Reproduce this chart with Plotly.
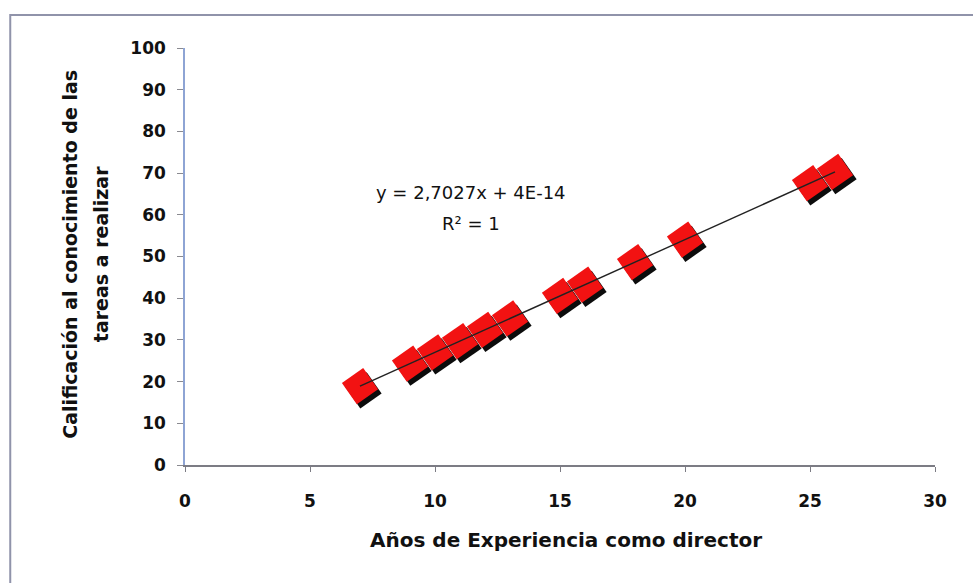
import plotly.graph_objects as go

# Years of experience as director vs. rating of task knowledge
years = [7, 9, 10, 11, 12, 13, 15, 16, 18, 20, 25, 26]
slope = 2.7027
rating = [round(slope * x, 2) for x in years]

x_ticks = [0, 5, 10, 15, 20, 25, 30]
y_ticks = [0, 10, 20, 30, 40, 50, 60, 70, 80, 90, 100]

bold_font = "DejaVu Sans, sans-serif"
text_color = "#111111"

fig = go.Figure()

# Drop shadow under each marker
fig.add_trace(go.Scatter(
    x=[x + 0.14 for x in years],
    y=[y - 1.0 for y in rating],
    mode="markers",
    marker=dict(symbol="square", size=26, angle=-35, color="#0c0c0c"),
    hoverinfo="skip", showlegend=False,
))

fig.add_trace(go.Scatter(
    x=years, y=rating, mode="markers",
    marker=dict(symbol="square", size=26, angle=-35, color="#f21212",
                line=dict(width=0)),
    showlegend=False,
))

# Linear trend line
fig.add_trace(go.Scatter(
    x=[min(years), max(years)],
    y=[slope * min(years), slope * max(years)],
    mode="lines", line=dict(color="#222222", width=1.4),
    showlegend=False, hoverinfo="skip",
))

# Trend equation and fit quality
fig.add_annotation(x=11.45, y=65.3, xref="x", yref="y",
                   text="y = 2,7027x + 4E-14", showarrow=False,
                   xanchor="center", yanchor="middle",
                   font=dict(family=bold_font, size=18, color=text_color))
fig.add_annotation(x=11.45, y=57.9, xref="x", yref="y",
                   text="R² = 1", showarrow=False,
                   xanchor="center", yanchor="middle",
                   font=dict(family=bold_font, size=18, color=text_color))

# Axis titles
fig.add_annotation(x=0.508, y=-0.18, xref="paper", yref="paper",
                   text="<b>Años de Experiencia como director</b>",
                   showarrow=False, xanchor="center", yanchor="middle",
                   font=dict(family=bold_font, size=20, color=text_color))
fig.add_annotation(x=-0.153, y=0.505, xref="paper", yref="paper",
                   text="<b>Calificación al conocimiento de las</b>",
                   showarrow=False, textangle=-90,
                   xanchor="center", yanchor="middle",
                   font=dict(family=bold_font, size=19, color=text_color))
fig.add_annotation(x=-0.111, y=0.505, xref="paper", yref="paper",
                   text="<b>tareas a realizar</b>",
                   showarrow=False, textangle=-90,
                   xanchor="center", yanchor="middle",
                   font=dict(family=bold_font, size=19, color=text_color))

# Outer chart frame
fig.add_shape(type="rect", xref="paper", yref="paper",
              x0=-0.233, x1=1.2, y0=-0.35, y1=1.079,
              line=dict(color="#9093aa", width=2), layer="below")

fig.update_layout(
    width=973, height=583,
    margin=dict(l=185, r=38, t=48, b=118),
    paper_bgcolor="white", plot_bgcolor="white",
    font=dict(family=bold_font, color=text_color),
    xaxis=dict(
        range=[0, 30], tickvals=x_ticks, ticktext=[str(v) for v in x_ticks],
        showgrid=False, zeroline=False,
        showline=True, linecolor="#7c7c84", linewidth=1.5,
        ticks="outside", ticklen=5, tickcolor="#7c7c84",
        ticklabelstandoff=15,
        tickfont=dict(size=17, family=bold_font, weight="bold"),
    ),
    yaxis=dict(
        range=[0, 100], tickvals=y_ticks, ticktext=[str(v) for v in y_ticks],
        showgrid=False, zeroline=False,
        showline=True, linecolor="#8ea4d4", linewidth=1.5,
        ticks="outside", ticklen=6, tickcolor="#8a8a90",
        ticklabelstandoff=8,
        tickfont=dict(size=17, family=bold_font, weight="bold"),
    ),
)

fig.write_html("out.html")
